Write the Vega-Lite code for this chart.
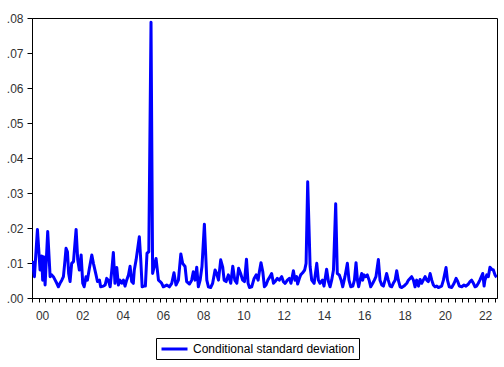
{
  "$schema": "https://vega.github.io/schema/vega-lite/v6.json",
  "width": 465,
  "height": 280,
  "autosize": "none",
  "padding": {"left": 32, "top": 18, "right": 7, "bottom": 69},
  "background": "white",
  "config": {
    "view": {"stroke": "#000", "strokeWidth": 1},
    "axis": {"labelFont": "Liberation Sans", "labelFontSize": 12, "labelColor": "#333", "domainColor": "#000", "tickColor": "#000", "grid": false, "title": null},
    "legend": {"labelFont": "Liberation Sans", "labelFontSize": 12, "labelColor": "#000"}
  },
  "data": {"values": [
    {"t": 2000.02, "sd": 0.0106}, {"t": 2000.12, "sd": 0.0061}, {"t": 2000.27, "sd": 0.0196}, {"t": 2000.40, "sd": 0.0080},
    {"t": 2000.48, "sd": 0.0120}, {"t": 2000.53, "sd": 0.0051}, {"t": 2000.58, "sd": 0.0118}, {"t": 2000.65, "sd": 0.0037},
    {"t": 2000.78, "sd": 0.0190}, {"t": 2000.90, "sd": 0.0061}, {"t": 2000.98, "sd": 0.0066}, {"t": 2001.06, "sd": 0.0061},
    {"t": 2001.15, "sd": 0.0051}, {"t": 2001.23, "sd": 0.0042}, {"t": 2001.31, "sd": 0.0032}, {"t": 2001.39, "sd": 0.0042},
    {"t": 2001.48, "sd": 0.0051}, {"t": 2001.56, "sd": 0.0061}, {"t": 2001.64, "sd": 0.0109}, {"t": 2001.69, "sd": 0.0142},
    {"t": 2001.76, "sd": 0.0132}, {"t": 2001.82, "sd": 0.0070}, {"t": 2001.89, "sd": 0.0047}, {"t": 2001.97, "sd": 0.0099},
    {"t": 2002.06, "sd": 0.0104}, {"t": 2002.19, "sd": 0.0196}, {"t": 2002.27, "sd": 0.0109}, {"t": 2002.35, "sd": 0.0080},
    {"t": 2002.44, "sd": 0.0123}, {"t": 2002.52, "sd": 0.0042}, {"t": 2002.59, "sd": 0.0032}, {"t": 2002.68, "sd": 0.0061},
    {"t": 2002.75, "sd": 0.0051}, {"t": 2002.85, "sd": 0.0085}, {"t": 2002.97, "sd": 0.0123}, {"t": 2003.05, "sd": 0.0099},
    {"t": 2003.18, "sd": 0.0066}, {"t": 2003.25, "sd": 0.0047}, {"t": 2003.35, "sd": 0.0051}, {"t": 2003.41, "sd": 0.0032},
    {"t": 2003.55, "sd": 0.0034}, {"t": 2003.63, "sd": 0.0037}, {"t": 2003.71, "sd": 0.0056}, {"t": 2003.79, "sd": 0.0051},
    {"t": 2003.88, "sd": 0.0032}, {"t": 2003.98, "sd": 0.0090}, {"t": 2004.04, "sd": 0.0130}, {"t": 2004.12, "sd": 0.0042},
    {"t": 2004.21, "sd": 0.0087}, {"t": 2004.29, "sd": 0.0037}, {"t": 2004.37, "sd": 0.0051}, {"t": 2004.46, "sd": 0.0042},
    {"t": 2004.54, "sd": 0.0051}, {"t": 2004.62, "sd": 0.0034}, {"t": 2004.70, "sd": 0.0051}, {"t": 2004.79, "sd": 0.0066},
    {"t": 2004.87, "sd": 0.0091}, {"t": 2004.95, "sd": 0.0047}, {"t": 2005.03, "sd": 0.0042}, {"t": 2005.08, "sd": 0.0080},
    {"t": 2005.17, "sd": 0.0109}, {"t": 2005.33, "sd": 0.0175}, {"t": 2005.40, "sd": 0.0109}, {"t": 2005.47, "sd": 0.0032},
    {"t": 2005.56, "sd": 0.0034}, {"t": 2005.63, "sd": 0.0034}, {"t": 2005.71, "sd": 0.0128}, {"t": 2005.80, "sd": 0.0132},
    {"t": 2005.91, "sd": 0.0788}, {"t": 2005.99, "sd": 0.0070}, {"t": 2006.16, "sd": 0.0113}, {"t": 2006.28, "sd": 0.0051},
    {"t": 2006.36, "sd": 0.0047}, {"t": 2006.44, "sd": 0.0042}, {"t": 2006.52, "sd": 0.0032}, {"t": 2006.69, "sd": 0.0037},
    {"t": 2006.82, "sd": 0.0032}, {"t": 2006.94, "sd": 0.0042}, {"t": 2007.05, "sd": 0.0072}, {"t": 2007.15, "sd": 0.0037},
    {"t": 2007.27, "sd": 0.0051}, {"t": 2007.39, "sd": 0.0126}, {"t": 2007.48, "sd": 0.0099}, {"t": 2007.60, "sd": 0.0090},
    {"t": 2007.68, "sd": 0.0047}, {"t": 2007.82, "sd": 0.0040}, {"t": 2007.93, "sd": 0.0051}, {"t": 2008.01, "sd": 0.0075},
    {"t": 2008.10, "sd": 0.0051}, {"t": 2008.18, "sd": 0.0088}, {"t": 2008.26, "sd": 0.0032}, {"t": 2008.35, "sd": 0.0051},
    {"t": 2008.44, "sd": 0.0090}, {"t": 2008.56, "sd": 0.0211}, {"t": 2008.68, "sd": 0.0051}, {"t": 2008.76, "sd": 0.0032},
    {"t": 2008.87, "sd": 0.0030}, {"t": 2008.97, "sd": 0.0042}, {"t": 2009.09, "sd": 0.0080}, {"t": 2009.17, "sd": 0.0070},
    {"t": 2009.26, "sd": 0.0051}, {"t": 2009.37, "sd": 0.0109}, {"t": 2009.47, "sd": 0.0088}, {"t": 2009.54, "sd": 0.0051},
    {"t": 2009.64, "sd": 0.0047}, {"t": 2009.75, "sd": 0.0066}, {"t": 2009.87, "sd": 0.0042}, {"t": 2009.97, "sd": 0.0091},
    {"t": 2010.07, "sd": 0.0051}, {"t": 2010.17, "sd": 0.0042}, {"t": 2010.26, "sd": 0.0085}, {"t": 2010.36, "sd": 0.0070},
    {"t": 2010.46, "sd": 0.0051}, {"t": 2010.55, "sd": 0.0047}, {"t": 2010.65, "sd": 0.0111}, {"t": 2010.73, "sd": 0.0042},
    {"t": 2010.80, "sd": 0.0030}, {"t": 2010.91, "sd": 0.0032}, {"t": 2011.03, "sd": 0.0056}, {"t": 2011.13, "sd": 0.0066},
    {"t": 2011.23, "sd": 0.0051}, {"t": 2011.29, "sd": 0.0075}, {"t": 2011.37, "sd": 0.0101}, {"t": 2011.46, "sd": 0.0075},
    {"t": 2011.54, "sd": 0.0032}, {"t": 2011.62, "sd": 0.0037}, {"t": 2011.71, "sd": 0.0051}, {"t": 2011.82, "sd": 0.0061},
    {"t": 2011.90, "sd": 0.0070}, {"t": 2011.99, "sd": 0.0042}, {"t": 2012.07, "sd": 0.0047}, {"t": 2012.18, "sd": 0.0056},
    {"t": 2012.28, "sd": 0.0051}, {"t": 2012.40, "sd": 0.0061}, {"t": 2012.48, "sd": 0.0047}, {"t": 2012.57, "sd": 0.0042},
    {"t": 2012.68, "sd": 0.0051}, {"t": 2012.78, "sd": 0.0056}, {"t": 2012.86, "sd": 0.0042}, {"t": 2012.98, "sd": 0.0078},
    {"t": 2013.06, "sd": 0.0051}, {"t": 2013.14, "sd": 0.0061}, {"t": 2013.19, "sd": 0.0040}, {"t": 2013.28, "sd": 0.0056},
    {"t": 2013.34, "sd": 0.0066}, {"t": 2013.44, "sd": 0.0072}, {"t": 2013.54, "sd": 0.0080}, {"t": 2013.61, "sd": 0.0099},
    {"t": 2013.69, "sd": 0.0332}, {"t": 2013.81, "sd": 0.0090}, {"t": 2013.89, "sd": 0.0051}, {"t": 2014.01, "sd": 0.0042},
    {"t": 2014.14, "sd": 0.0099}, {"t": 2014.22, "sd": 0.0051}, {"t": 2014.30, "sd": 0.0042}, {"t": 2014.42, "sd": 0.0051},
    {"t": 2014.50, "sd": 0.0034}, {"t": 2014.63, "sd": 0.0082}, {"t": 2014.72, "sd": 0.0047}, {"t": 2014.80, "sd": 0.0032},
    {"t": 2014.88, "sd": 0.0051}, {"t": 2014.97, "sd": 0.0080}, {"t": 2015.08, "sd": 0.0269}, {"t": 2015.16, "sd": 0.0070},
    {"t": 2015.26, "sd": 0.0066}, {"t": 2015.35, "sd": 0.0051}, {"t": 2015.43, "sd": 0.0032}, {"t": 2015.54, "sd": 0.0061},
    {"t": 2015.66, "sd": 0.0099}, {"t": 2015.74, "sd": 0.0051}, {"t": 2015.83, "sd": 0.0032}, {"t": 2015.93, "sd": 0.0034},
    {"t": 2016.01, "sd": 0.0051}, {"t": 2016.09, "sd": 0.0101}, {"t": 2016.16, "sd": 0.0051}, {"t": 2016.22, "sd": 0.0032},
    {"t": 2016.29, "sd": 0.0051}, {"t": 2016.37, "sd": 0.0070}, {"t": 2016.42, "sd": 0.0051}, {"t": 2016.49, "sd": 0.0066},
    {"t": 2016.57, "sd": 0.0061}, {"t": 2016.65, "sd": 0.0066}, {"t": 2016.74, "sd": 0.0051}, {"t": 2016.82, "sd": 0.0032},
    {"t": 2016.92, "sd": 0.0042}, {"t": 2017.00, "sd": 0.0051}, {"t": 2017.08, "sd": 0.0061}, {"t": 2017.20, "sd": 0.0110},
    {"t": 2017.28, "sd": 0.0051}, {"t": 2017.37, "sd": 0.0037}, {"t": 2017.45, "sd": 0.0034}, {"t": 2017.53, "sd": 0.0051},
    {"t": 2017.61, "sd": 0.0070}, {"t": 2017.69, "sd": 0.0051}, {"t": 2017.78, "sd": 0.0034}, {"t": 2017.86, "sd": 0.0032},
    {"t": 2017.94, "sd": 0.0042}, {"t": 2018.03, "sd": 0.0051}, {"t": 2018.11, "sd": 0.0078}, {"t": 2018.19, "sd": 0.0051},
    {"t": 2018.28, "sd": 0.0032}, {"t": 2018.36, "sd": 0.0030}, {"t": 2018.47, "sd": 0.0034}, {"t": 2018.61, "sd": 0.0042},
    {"t": 2018.69, "sd": 0.0051}, {"t": 2018.77, "sd": 0.0056}, {"t": 2018.85, "sd": 0.0061}, {"t": 2018.94, "sd": 0.0051},
    {"t": 2019.02, "sd": 0.0032}, {"t": 2019.10, "sd": 0.0051}, {"t": 2019.19, "sd": 0.0034}, {"t": 2019.27, "sd": 0.0053},
    {"t": 2019.35, "sd": 0.0042}, {"t": 2019.43, "sd": 0.0051}, {"t": 2019.52, "sd": 0.0061}, {"t": 2019.60, "sd": 0.0051},
    {"t": 2019.68, "sd": 0.0047}, {"t": 2019.77, "sd": 0.0070}, {"t": 2019.85, "sd": 0.0051}, {"t": 2019.93, "sd": 0.0037},
    {"t": 2020.01, "sd": 0.0032}, {"t": 2020.10, "sd": 0.0034}, {"t": 2020.18, "sd": 0.0030}, {"t": 2020.26, "sd": 0.0032},
    {"t": 2020.34, "sd": 0.0034}, {"t": 2020.43, "sd": 0.0051}, {"t": 2020.56, "sd": 0.0087}, {"t": 2020.63, "sd": 0.0051},
    {"t": 2020.72, "sd": 0.0032}, {"t": 2020.84, "sd": 0.0030}, {"t": 2020.96, "sd": 0.0042}, {"t": 2021.06, "sd": 0.0056},
    {"t": 2021.14, "sd": 0.0047}, {"t": 2021.22, "sd": 0.0034}, {"t": 2021.34, "sd": 0.0032}, {"t": 2021.45, "sd": 0.0037},
    {"t": 2021.55, "sd": 0.0034}, {"t": 2021.67, "sd": 0.0040}, {"t": 2021.75, "sd": 0.0047}, {"t": 2021.83, "sd": 0.0051},
    {"t": 2021.92, "sd": 0.0042}, {"t": 2022.00, "sd": 0.0032}, {"t": 2022.08, "sd": 0.0034}, {"t": 2022.16, "sd": 0.0042},
    {"t": 2022.24, "sd": 0.0051}, {"t": 2022.38, "sd": 0.0070}, {"t": 2022.45, "sd": 0.0034}, {"t": 2022.49, "sd": 0.0051},
    {"t": 2022.58, "sd": 0.0066}, {"t": 2022.66, "sd": 0.0061}, {"t": 2022.74, "sd": 0.0088}, {"t": 2022.83, "sd": 0.0082},
    {"t": 2022.91, "sd": 0.0080}, {"t": 2022.99, "sd": 0.0066}, {"t": 2023.07, "sd": 0.0059}
  ]},
  "mark": {"type": "line", "strokeWidth": 3, "strokeJoin": "round", "clip": true},
  "encoding": {
    "x": {
      "field": "t", "type": "quantitative",
      "scale": {"domain": [2000, 2023.09], "nice": false, "zero": false},
      "axis": {
        "values": [2000, 2000.333, 2000.5, 2000.667, 2001, 2001.333, 2001.667, 2002, 2002.333, 2002.5, 2002.667, 2003, 2003.333, 2003.667, 2004, 2004.333, 2004.5, 2004.667, 2005, 2005.333, 2005.667, 2006, 2006.333, 2006.5, 2006.667, 2007, 2007.333, 2007.667, 2008, 2008.333, 2008.5, 2008.667, 2009, 2009.333, 2009.667, 2010, 2010.333, 2010.5, 2010.667, 2011, 2011.333, 2011.667, 2012, 2012.333, 2012.5, 2012.667, 2013, 2013.333, 2013.667, 2014, 2014.333, 2014.5, 2014.667, 2015, 2015.333, 2015.667, 2016, 2016.333, 2016.5, 2016.667, 2017, 2017.333, 2017.667, 2018, 2018.333, 2018.5, 2018.667, 2019, 2019.333, 2019.667, 2020, 2020.333, 2020.5, 2020.667, 2021, 2021.333, 2021.667, 2022, 2022.333, 2022.5, 2022.667, 2023],
        "labelExpr": "abs(datum.value - floor(datum.value) - 0.5) < 0.01 ? substring(toString(floor(datum.value)), 2, 4) : ''",
        "tickOpacity": {"condition": {"test": "abs(datum.value - floor(datum.value) - 0.5) < 0.01", "value": 0}, "value": 1},
        "tickSize": 4,
        "labelPadding": 8,
        "labelOverlap": false,
        "labelFlush": false
      }
    },
    "y": {
      "field": "sd", "type": "quantitative",
      "scale": {"domain": [0, 0.08], "nice": false},
      "axis": {
        "values": [0, 0.01, 0.02, 0.03, 0.04, 0.05, 0.06, 0.07, 0.08],
        "labelExpr": "replace(format(datum.value, '.2f'), '0.', '.')",
        "tickSize": 5,
        "labelPadding": 4
      }
    },
    "color": {
      "datum": "Conditional standard deviation",
      "type": "nominal",
      "scale": {"range": ["#0000FF"]},
      "legend": {
        "title": null,
        "orient": "none",
        "legendX": 124,
        "legendY": 320,
        "direction": "horizontal",
        "strokeColor": "#000",
        "padding": 4,
        "symbolType": "M-1,0H3.727",
        "symbolSize": 121,
        "symbolStrokeWidth": 3,
        "labelOffset": 19,
        "labelLimit": 400
      }
    }
  }
}
